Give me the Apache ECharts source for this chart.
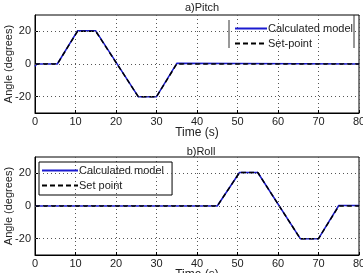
<!DOCTYPE html>
<html>
<head>
<meta charset="utf-8">
<script src="https://cdn.jsdelivr.net/npm/echarts@6/dist/echarts.min.js"></script>
<style>
  html, body { margin: 0; padding: 0; background: #fff; }
  #chart { width: 363px; height: 273px; }
</style>
</head>
<body>
<div id="chart"></div>
<script>
// pitch (a)
var pitchSetT = [0, 5.5, 10.5, 15, 25.5, 30, 35, 80];
var pitchSetV = [0, 0, 20, 20, -20, -20, 0, 0];
var pitchCalcT = [0, 0.4, 1, 5.5, 10.5, 15, 25.5, 30, 35, 80];
var pitchCalcV = [-1.5, 0, 0, 0, 20.3, 20.3, -20, -20, 0.4, 0];
// roll (b)
var rollSetT = [0, 45, 50.5, 55, 65.5, 70, 75, 80];
var rollSetV = [0, 0, 20.5, 20.5, -20, -20, 0, 0];
var rollCalcT = [0, 45, 50.5, 55, 65.5, 70, 75, 80];
var rollCalcV = [0, 0, 20.5, 20.5, -20, -20, 0.3, 0.3];

var xTicks = [0, 10, 20, 30, 40, 50, 60, 70, 80];
var yTicks = [-20, 0, 20];

function pairs(t, v){
	var out = [];
	for (var i = 0; i < t.length; i++) out.push([t[i], v[i]]);
	return out;
}

var font = 'Liberation Sans';
var dotted = {show: true, lineStyle: {color: '#555', type: [1, 3], width: 1}};

function xAx(idx){
	return {
		type: 'value', gridIndex: idx, min: 0, max: 80, interval: 10,
		name: 'Time (s)', nameLocation: 'middle', nameGap: 14, nameMoveOverlap: false,
		nameTextStyle: {fontFamily: font, fontSize: 12, color: '#222'},
		axisLine: {onZero: false, lineStyle: {color: '#000'}},
		axisTick: {inside: true, length: 3, lineStyle: {color: '#000'}},
		axisLabel: {fontFamily: font, fontSize: 11, color: '#222', margin: 3},
		splitLine: dotted
	};
}
function yAx(idx){
	return {
		type: 'value', gridIndex: idx, min: -30, max: 30, interval: 10,
		name: 'Angle (degrees)', nameLocation: 'middle', nameGap: 21, nameMoveOverlap: false,
		nameTextStyle: {fontFamily: font, fontSize: 11, color: '#222'},
		axisLine: {onZero: false, lineStyle: {color: '#000'}},
		axisTick: {inside: true, length: 3, lineStyle: {color: '#000'},
			customValues: yTicks},
		axisLabel: {fontFamily: font, fontSize: 11, color: '#222', margin: 4,
			customValues: yTicks},
		splitLine: {show: false}
	};
}
function line(name, idx, data, color, type, z){
	return {
		name: name, type: 'line', xAxisIndex: idx, yAxisIndex: idx,
		data: data, symbol: 'none', z: z,
		lineStyle: {color: color, width: 1.5, type: type},
		itemStyle: {color: color}
	};
}

// horizontal grid lines at the labelled ticks only
function markY(){
	return {
		silent: true, symbol: 'none', label: {show: false},
		lineStyle: {color: '#555', type: [1, 3], width: 1},
		data: yTicks.map(function(v){ return {yAxis: v}; })
	};
}

var s0 = line('Calculated model', 0, pairs(pitchCalcT, pitchCalcV), '#1a1ad0', 'solid', 2);
s0.markLine = markY();
var s2 = line('Calculated model ', 1, pairs(rollCalcT, rollCalcV), '#1a1ad0', 'solid', 2);
s2.markLine = markY();

var legText = {fontFamily: font, fontSize: 11, color: '#222', padding: [0, 0, 0, -4]};

var option = {
	backgroundColor: '#fff',
	animation: false,
	title: [
		{text: 'a)Pitch', left: 197, top: -3, textAlign: 'center',
			textStyle: {fontFamily: font, fontSize: 11, fontWeight: 'normal', color: '#222'}},
		{text: 'b)Roll', left: 196, top: 141, textAlign: 'center',
			textStyle: {fontFamily: font, fontSize: 11, fontWeight: 'normal', color: '#222'}}
	],
	legend: [
		{data: ['Calculated model', 'Set-point'], left: 234, top: 23, orient: 'vertical',
			itemWidth: 32, itemHeight: 10, itemGap: 4, padding: 0,
			itemStyle: {opacity: 0},
			textStyle: legText},
		{data: ['Calculated model ', 'Set point'], left: 39, top: 162, orient: 'vertical',
			itemWidth: 36, itemHeight: 10, itemGap: 4, padding: [3, 5, 4, 2],
			borderColor: '#000', borderWidth: 1,
			itemStyle: {opacity: 0},
			textStyle: legText}
	],
	grid: [
		{left: 35, top: 15, width: 324, height: 98, show: true, borderColor: '#000', borderWidth: 1,
			outerBoundsMode: 'none', containLabel: false},
		{left: 35, top: 157, width: 324, height: 98, show: true, borderColor: '#000', borderWidth: 1,
			outerBoundsMode: 'none', containLabel: false}
	],
	xAxis: [xAx(0), xAx(1)],
	yAxis: [yAx(0), yAx(1)],
	graphic: [
		{type: 'line', shape: {x1: 229, y1: 20, x2: 229, y2: 48}, style: {stroke: '#333', lineWidth: 1}},
		{type: 'line', shape: {x1: 354, y1: 15, x2: 354, y2: 48}, style: {stroke: '#333', lineWidth: 1}}
	],
	series: [
		s0,
		line('Set-point', 0, pairs(pitchSetT, pitchSetV), '#000', [5, 3], 3),
		s2,
		line('Set point', 1, pairs(rollSetT, rollSetV), '#000', [5, 3], 3)
	]
};

var myChart = echarts.init(document.getElementById('chart'));
myChart.setOption(option);
</script>
</body>
</html>
